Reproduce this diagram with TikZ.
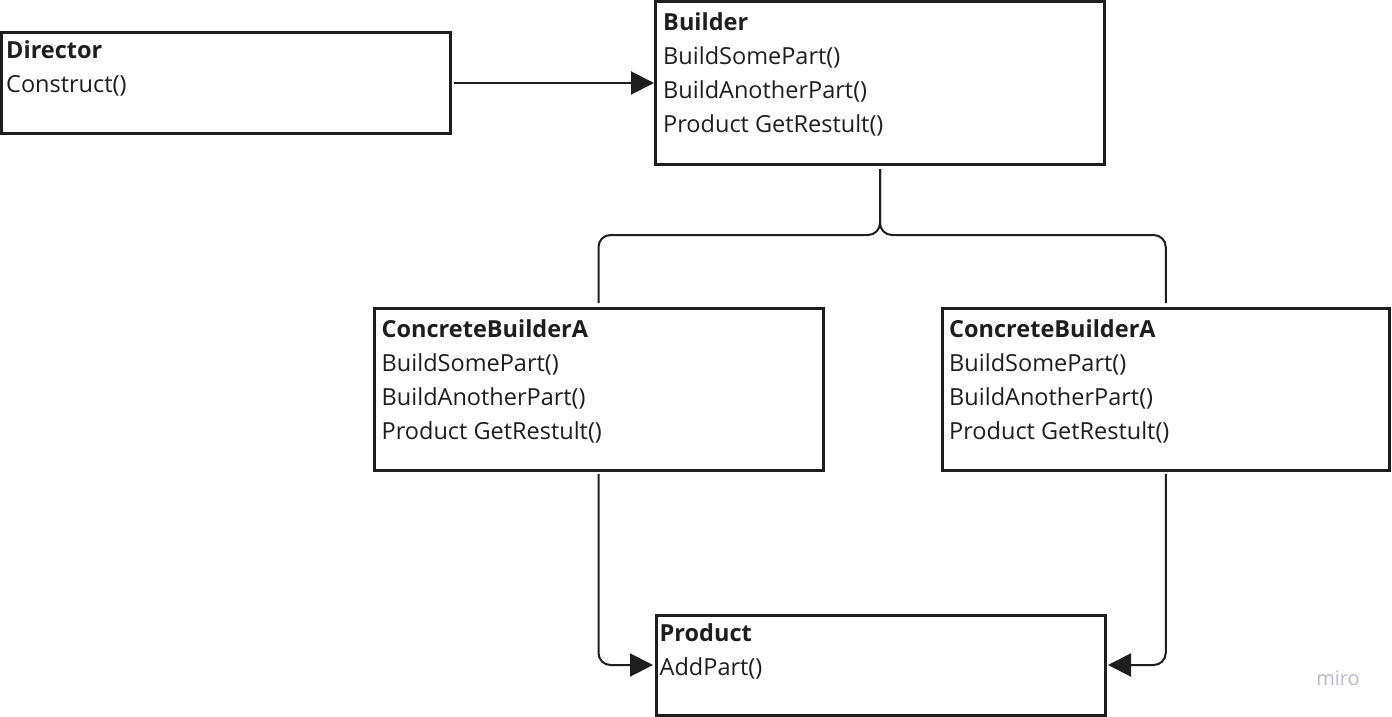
\documentclass[tikz,border=0pt]{standalone}
\usepackage{fontspec}
\setmainfont{Open Sans}
\usetikzlibrary{arrows.meta}
\definecolor{ink}{RGB}{30,30,30}
\definecolor{wm}{RGB}{185,186,205}
\newcommand{\umlcls}[2]{\parbox[t]{430pt}{\raggedright\textbf{#1}\\#2}}
\tikzset{
  box/.style={draw=ink, line width=3pt, minimum width=449pt, inner sep=0pt, outer sep=0pt, anchor=north west},
  txt/.style={anchor=base west, inner sep=0pt, text=ink, font=\fontsize{23.5}{34}\selectfont},
  conn/.style={draw=ink, line width=2pt, rounded corners=12pt},
  tip/.style={-{Triangle[length=23pt,width=23pt]}}
}
\begin{document}
\begin{tikzpicture}[x=1pt,y=-1pt]
\useasboundingbox[fill=white] (0,0) rectangle (1392,717);
% boxes
\node[box, minimum height=100pt] (dir) at (1.5,33) {};
\node[box, minimum height=162pt] (bld) at (655.5,2) {};
\node[box, minimum height=162pt] (cbl) at (374,308) {};
\node[box, minimum width=447.5pt, minimum height=162pt] (cbr) at (942,308) {};
\node[box, minimum height=100pt] (prd) at (656,615) {};
% texts
\node[txt] (tdir) at ([xshift=4.5pt,yshift=-26pt]dir.north west) {\umlcls{Director}{Construct()}};
\node[txt] (tbld) at ([xshift=7.5pt,yshift=-29pt]bld.north west) {\umlcls{Builder}{BuildSomePart()\\BuildAnotherPart()\\Product GetRestult()}};
\node[txt] (tcbl) at ([xshift=7.5pt,yshift=-29pt]cbl.north west) {\umlcls{ConcreteBuilderA}{BuildSomePart()\\BuildAnotherPart()\\Product GetRestult()}};
\node[txt] (tcbr) at ([xshift=7pt,yshift=-29pt]cbr.north west) {\umlcls{ConcreteBuilderA}{BuildSomePart()\\BuildAnotherPart()\\Product GetRestult()}};
\node[txt] (tprd) at ([xshift=3.5pt,yshift=-26pt]prd.north west) {\umlcls{Product}{AddPart()}};
% connectors
\coordinate (j) at (880,235);
\draw[conn, tip, shorten <=3pt, shorten >=1.5pt] (dir.east) -- (dir.east -| bld.west);
\draw[conn, shorten <=5pt, shorten >=5pt] (bld.south) -- (bld.south |- j) -| (cbl.north);
\draw[conn, shorten <=5pt, shorten >=5pt] (bld.south) -- (bld.south |- j) -| (cbr.north);
\draw[conn, tip, shorten <=4pt, shorten >=3pt] (cbl.south) |- (prd.west);
\draw[conn, tip, shorten <=4pt, shorten >=3pt] (cbr.south) |- (prd.east);
% watermark
\node[anchor=base, inner sep=0pt, text=wm, font=\fontsize{20}{24}\selectfont] (miro) at (1338,685) {miro};
\end{tikzpicture}
\end{document}
